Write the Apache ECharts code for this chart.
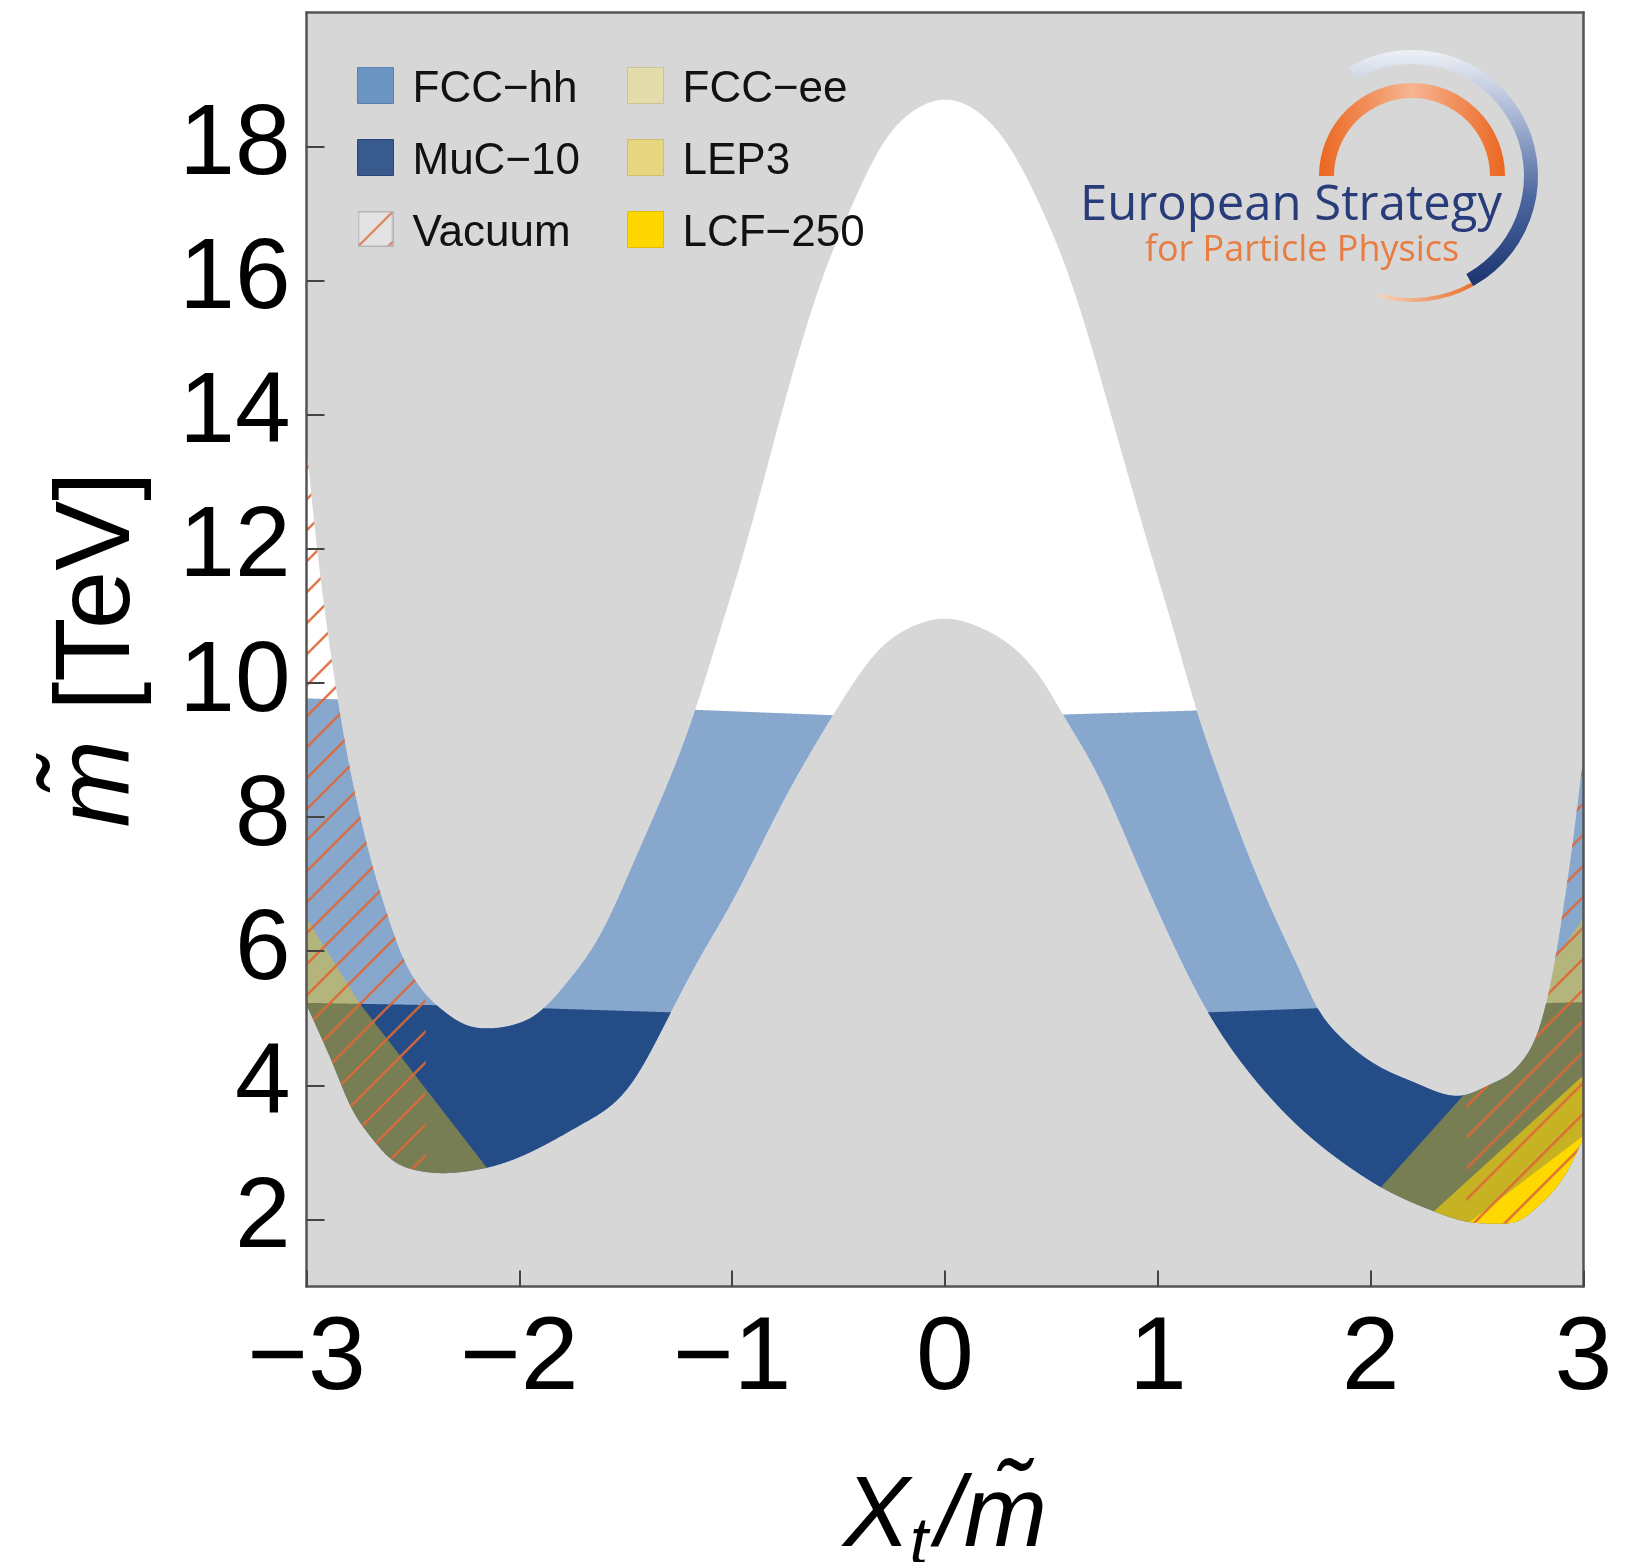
<!DOCTYPE html>
<html><head><meta charset="utf-8">
<script src="https://cdn.jsdelivr.net/npm/echarts@6/dist/echarts.min.js"></script>
<style>html,body{margin:0;padding:0;background:#fff;}#c{width:1639px;height:1562px;}</style>
</head><body><div id="c"></div>
<script>
// ---------------- data ----------------
const xTicks = [-3, -2, -1, 0, 1, 2, 3];
const yTicks = [2, 4, 6, 8, 10, 12, 14, 16, 18];

// outer (upper) boundary of the allowed band  [X_t/m, m (TeV)]
const upperBoundary = [
  [-3.00, 13.55], [-2.95, 12.00], [-2.90, 10.75], [-2.85, 9.70], [-2.80, 8.80],
  [-2.75, 8.05], [-2.70, 7.40], [-2.62, 6.55], [-2.56, 6.01], [-2.46, 5.44],
  [-2.36, 5.12], [-2.24, 4.89], [-2.15, 4.85], [-2.01, 4.92], [-1.93, 5.04],
  [-1.77, 5.56], [-1.62, 6.25], [-1.46, 7.35], [-1.174, 9.60], [-1.06, 10.75],
  [-0.95, 11.90], [-0.77, 14.00], [-0.58, 16.00], [-0.44, 17.10], [-0.29, 18.05],
  [-0.14, 18.55], [0.0, 18.70], [0.14, 18.55], [0.29, 18.05], [0.45, 17.10],
  [0.59, 16.00], [0.78, 14.00], [0.97, 11.90], [1.07, 10.83], [1.183, 9.59],
  [1.29, 8.59], [1.418, 7.50], [1.573, 6.35], [1.667, 5.71], [1.746, 5.18],
  [1.84, 4.78], [1.98, 4.40], [2.04, 4.28], [2.216, 4.03], [2.43, 3.85],
  [2.573, 4.03], [2.64, 4.14], [2.714, 4.37], [2.78, 4.75], [2.83, 5.30],
  [2.87, 5.95], [2.91, 6.75], [2.95, 7.65], [3.00, 8.95]
];
// inner (lower) boundary of the allowed band
const lowerBoundary = [
  [-3.00, 5.20], [-2.93, 4.71], [-2.87, 4.27], [-2.79, 3.67], [-2.71, 3.28],
  [-2.61, 2.92], [-2.48, 2.73], [-2.36, 2.69], [-2.22, 2.73], [-2.14, 2.78],
  [-1.93, 3.03], [-1.70, 3.43], [-1.48, 4.00], [-1.31, 4.95], [-1.15, 5.91],
  [-1.01, 6.68], [-0.775, 8.14], [-0.526, 9.52], [-0.305, 10.51], [-0.155, 10.84],
  [0.0, 10.96], [0.164, 10.83], [0.32, 10.53], [0.48, 9.93], [0.554, 9.53],
  [0.714, 8.65], [0.869, 7.55], [1.02, 6.46], [1.23, 5.12], [1.432, 4.18],
  [1.667, 3.37], [1.90, 2.78], [2.06, 2.46], [2.29, 2.13], [2.465, 1.96],
  [2.605, 1.94], [2.70, 1.985], [2.78, 2.18], [2.873, 2.48], [2.934, 2.78],
  [3.00, 3.22]
];
// reach of the colliders
const fccHhReach = [[-3, 9.77], [-1.17, 9.60], [-0.53, 9.52], [0.55, 9.53], [1.18, 9.59], [3, 9.77]];
const muc10Reach = [[-3, 5.23], [-2.3, 5.19], [-1.3, 5.09], [1.25, 5.09], [1.75, 5.15], [3, 5.24]];
const fccEeLeftEdge = [[-3.05, 6.75], [-3.0, 6.49], [-2.75, 5.22], [-2.15, 2.76], [-2.0, 2.2]];
const fccEeRightEdge = [[2.0, 2.31], [2.04, 2.45], [2.43, 3.83], [3.0, 6.5]];
const lep3RightEdge = [[2.25, 1.99], [2.30, 2.13], [3.0, 4.15]];
const lcf250RightEdge = [[2.4, 1.80], [2.465, 1.96], [3.0, 3.25]];
const vacuumLimits = [-2.44, 2.45];

// ---------------- helpers ----------------
function naturalSpline(pts) {
  const n = pts.length, x = pts.map(p => p[0]), y = pts.map(p => p[1]);
  const h = [], al = [], l = new Array(n).fill(0), mu = new Array(n).fill(0), z = new Array(n).fill(0);
  const c = new Array(n).fill(0), b = new Array(n).fill(0), d = new Array(n).fill(0);
  for (let i = 0; i < n - 1; i++) h[i] = x[i + 1] - x[i];
  for (let i = 1; i < n - 1; i++) al[i] = 3 / h[i] * (y[i + 1] - y[i]) - 3 / h[i - 1] * (y[i] - y[i - 1]);
  l[0] = 1;
  for (let i = 1; i < n - 1; i++) {
    l[i] = 2 * (x[i + 1] - x[i - 1]) - h[i - 1] * mu[i - 1];
    mu[i] = h[i] / l[i];
    z[i] = (al[i] - h[i - 1] * z[i - 1]) / l[i];
  }
  for (let j = n - 2; j >= 0; j--) {
    c[j] = z[j] - mu[j] * c[j + 1];
    b[j] = (y[j + 1] - y[j]) / h[j] - h[j] * (c[j + 1] + 2 * c[j]) / 3;
    d[j] = (c[j + 1] - c[j]) / (3 * h[j]);
  }
  return function (xx) {
    let i = 0;
    if (xx > x[0]) { while (i < n - 2 && xx > x[i + 1]) i++; }
    const dx = xx - x[i];
    return y[i] + b[i] * dx + c[i] * dx * dx + d[i] * dx * dx * dx;
  };
}
function linear(pts) {
  return function (x) {
    let i = 0;
    while (i < pts.length - 2 && x > pts[i + 1][0]) i++;
    const a = pts[i], b = pts[i + 1];
    return a[1] + (b[1] - a[1]) * (x - a[0]) / (b[0] - a[0]);
  };
}
const U = naturalSpline(upperBoundary), L = naturalSpline(lowerBoundary);
const hh = linear(fccHhReach), mu = linear(muc10Reach);
const eeL = linear(fccEeLeftEdge), eeR = linear(fccEeRightEdge);
const lep = linear(lep3RightEdge), lcf = linear(lcf250RightEdge);

const STEP = 0.002;
function buildPolys(fn) {
  const polys = []; let top = [], bot = [];
  const N = Math.round(6 / STEP);
  for (let k = 0; k <= N; k++) {
    const x = -3 + k * STEP;
    const r = fn(x);
    if (r && r[1] > r[0]) { top.push([x, r[1]]); bot.push([x, r[0]]); }
    else { if (top.length > 1) polys.push(top.concat(bot.reverse())); top = []; bot = []; }
  }
  if (top.length > 1) polys.push(top.concat(bot.reverse()));
  return polys;
}
const bandPolys = buildPolys(x => [L(x), U(x)]);
const hhPolys = buildPolys(x => [L(x), Math.min(U(x), hh(x))]);
const muPolys = buildPolys(x => [L(x), Math.min(U(x), mu(x))]);
const eePolys = buildPolys(x => x <= -1.9 ? [L(x), Math.min(U(x), eeL(x))] : (x >= 1.95 ? [L(x), Math.min(U(x), eeR(x))] : null));
const lepPolys = buildPolys(x => x >= 2.2 ? [L(x), Math.min(U(x), lep(x))] : null);
const lcfPolys = buildPolys(x => x >= 2.35 ? [L(x), Math.min(U(x), lcf(x))] : null);
const vacPolys = buildPolys(x => (x <= vacuumLimits[0] || x >= vacuumLimits[1]) ? [L(x), U(x)] : null);

function hatchCanvas(P, color, w) {
  const c = document.createElement('canvas'); c.width = P; c.height = P;
  const g = c.getContext('2d');
  g.strokeStyle = color; g.lineWidth = w;
  for (const k of [0, P, 2 * P]) { g.beginPath(); g.moveTo(-P, k + P); g.lineTo(k + P, -P); g.stroke(); }
  return c;
}
const hatch = hatchCanvas(31, 'rgba(222,104,56,0.9)', 2.5);
function vacuumIcon() {
  const S = 36, c = document.createElement('canvas'); c.width = S; c.height = S;
  const g = c.getContext('2d');
  g.fillStyle = '#e3e3e3'; g.fillRect(0, 0, S, S);
  g.strokeStyle = '#e07a4c'; g.lineWidth = 2;
  g.beginPath(); g.moveTo(1, S - 1); g.lineTo(S - 1, 1); g.stroke();
  g.beginPath(); g.moveTo(S - 7, S + 1); g.lineTo(S + 1, S - 7); g.stroke();
  g.strokeStyle = '#b5b5b5'; g.lineWidth = 1.5; g.strokeRect(0.75, 0.75, S - 1.5, S - 1.5);
  return c.toDataURL();
}

function regionSeries(name, polys, fill, z) {
  return {
    type: 'custom', name: name, coordinateSystem: 'cartesian2d', clip: true, silent: true, z: z,
    itemStyle: { color: typeof fill === 'string' ? fill : '#e07a4c' },
    data: polys.map((p, i) => [p[0][0], p[0][1], i]),
    renderItem: function (params, api) {
      const poly = polys[params.dataIndex];
      return { type: 'polygon', shape: { points: poly.map(p => api.coord(p)) }, style: { fill: fill, stroke: null } };
    }
  };
}

const FONT = '"Liberation Sans", Arial, Helvetica, sans-serif';
const fmt = v => (v < 0 ? '\u2212' + Math.abs(v) : String(v));
const D = Math.PI / 180;
const legendText = { fontSize: 44, color: '#111', fontFamily: FONT, padding: [0, 0, 0, 14],
  rich: { a: { fontSize: 44, color: '#111', fontFamily: FONT, padding: [9, 0, 0, 0] } } };

const chart = echarts.init(document.getElementById('c'), null, { renderer: 'canvas' });
chart.setOption({
  animation: false,
  backgroundColor: '#ffffff',
  textStyle: { fontFamily: FONT },
  grid: { left: 306.5, top: 12.5, width: 1277, height: 1274, show: true, backgroundColor: '#d7d7d7', borderWidth: 0,
    containLabel: false, outerBoundsMode: 'none' },
  xAxis: [{
    type: 'value', min: -3, max: 3, interval: 1, position: 'bottom', z: 10,
    axisLine: { show: true, onZero: false, lineStyle: { color: '#555', width: 2.5 } },
    axisTick: { show: true, inside: true, length: 16, lineStyle: { color: '#444', width: 2 } },
    axisLabel: { fontSize: 104, color: '#000', margin: 22, formatter: fmt, fontFamily: FONT },
    splitLine: { show: false },
    name: '{i|X}{s|t}{i|/m\u0303}', nameLocation: 'middle', nameGap: 172,
    nameTextStyle: { fontSize: 100, color: '#000', fontFamily: FONT,
      rich: { i: { fontSize: 100, fontStyle: 'italic', color: '#000', fontFamily: FONT },
              s: { fontSize: 66, fontStyle: 'italic', color: '#000', fontFamily: FONT, padding: [54, 8, 0, 0] } } }
  }, {
    type: 'value', min: -3, max: 3, position: 'top', z: 10,
    axisLine: { show: true, onZero: false, lineStyle: { color: '#555', width: 2.5 } },
    axisTick: { show: false }, axisLabel: { show: false }, splitLine: { show: false }
  }],
  yAxis: [{
    type: 'value', min: 1, max: 20, position: 'left', z: 10,
    axisLine: { show: true, onZero: false, lineStyle: { color: '#555', width: 2.5 } },
    axisTick: { show: true, inside: true, length: 18, customValues: yTicks, lineStyle: { color: '#444', width: 2 } },
    axisLabel: { fontSize: 100, color: '#000', margin: 16, customValues: yTicks, formatter: fmt, fontFamily: FONT },
    splitLine: { show: false },
    name: '{i|m\u0303} [TeV]', nameLocation: 'middle', nameRotate: 90, nameGap: 154,
    nameTextStyle: { fontSize: 105, color: '#000', fontFamily: FONT,
      rich: { i: { fontSize: 105, fontStyle: 'italic', color: '#000', fontFamily: FONT } } }
  }, {
    type: 'value', min: 1, max: 20, position: 'right', z: 10,
    axisLine: { show: true, onZero: false, lineStyle: { color: '#555', width: 2.5 } },
    axisTick: { show: false }, axisLabel: { show: false }, splitLine: { show: false }
  }],
  legend: [{
    orient: 'vertical', left: 357, top: 67, itemWidth: 36, itemHeight: 36, itemGap: 27,
    icon: 'rect', selectedMode: false, padding: 0, textStyle: legendText,
    formatter: name => '{a|' + name + '}',
    data: [
      { name: 'FCC\u2212hh', itemStyle: { color: '#6d95c3', borderColor: '#5b80ad', borderWidth: 1 } },
      { name: 'MuC\u221210', itemStyle: { color: '#395a8c', borderColor: '#2b4977', borderWidth: 1 } },
      { name: 'Vacuum', icon: 'image://' + vacuumIcon() }
    ]
  }, {
    orient: 'vertical', left: 627, top: 67, itemWidth: 36, itemHeight: 36, itemGap: 27,
    icon: 'rect', selectedMode: false, padding: 0, textStyle: legendText,
    formatter: name => '{a|' + name + '}',
    data: [
      { name: 'FCC\u2212ee', itemStyle: { color: '#e3dcab', borderColor: '#cbc397', borderWidth: 1 } },
      { name: 'LEP3', itemStyle: { color: '#e6d680', borderColor: '#cfbf6c', borderWidth: 1 } },
      { name: 'LCF\u2212250', itemStyle: { color: '#ffd700', borderColor: '#e0bd00', borderWidth: 1 } }
    ]
  }],
  series: [
    regionSeries('band', bandPolys, '#ffffff', 2),
    regionSeries('FCC\u2212hh', hhPolys, '#87a7cd', 3),
    regionSeries('MuC\u221210', muPolys, '#244c87', 4),
    regionSeries('FCC\u2212ee', eePolys, 'rgba(245,202,5,0.4)', 5),
    regionSeries('LEP3', lepPolys, 'rgba(255,215,0,0.58)', 6),
    regionSeries('LCF\u2212250', lcfPolys, 'rgba(255,216,0,1)', 7),
    regionSeries('Vacuum', vacPolys, { image: hatch, repeat: 'repeat' }, 8)
  ],
  graphic: [
    { type: 'sector', z: 100, shape: { cx: 1412, cy: 176, r0: 112, r: 126, startAngle: 240 * D, endAngle: 421 * D, clockwise: true },
      style: { fill: new echarts.graphic.LinearGradient(0, 0, 0, 1, [{ offset: 0, color: '#eef1f6' }, { offset: 0.3, color: '#a2b2d0' }, { offset: 0.62, color: '#4d68a0' }, { offset: 1, color: '#1b3470' }]) } },
    { type: 'sector', z: 100, shape: { cx: 1412, cy: 176, r0: 78, r: 93, startAngle: 180 * D, endAngle: 360 * D, clockwise: true },
      style: { fill: new echarts.graphic.LinearGradient(0, 0, 1, 0, [{ offset: 0, color: '#eb6620' }, { offset: 0.5, color: '#f6b591' }, { offset: 1, color: '#eb6620' }]) } },
    { type: 'sector', z: 100, shape: { cx: 1412, cy: 176, r0: 122, r: 126, startAngle: 61 * D, endAngle: 106 * D, clockwise: true },
      style: { fill: new echarts.graphic.LinearGradient(1, 0, 0, 0, [{ offset: 0, color: '#e8722e' }, { offset: 1, color: '#f6d4c0' }]) } },
    { type: 'text', z: 101, x: 1291, y: 206,
      style: { text: 'European Strategy', font: '49px "Open Sans", "Noto Sans", sans-serif', fill: '#283c7a', textAlign: 'center', textVerticalAlign: 'middle', align: 'center', verticalAlign: 'middle' } },
    { type: 'text', z: 101, x: 1302, y: 251,
      style: { text: 'for Particle Physics', font: '36px "Open Sans", "Noto Sans", sans-serif', fill: '#e87d42', textAlign: 'center', textVerticalAlign: 'middle', align: 'center', verticalAlign: 'middle' } }
  ]
});
</script></body></html>
